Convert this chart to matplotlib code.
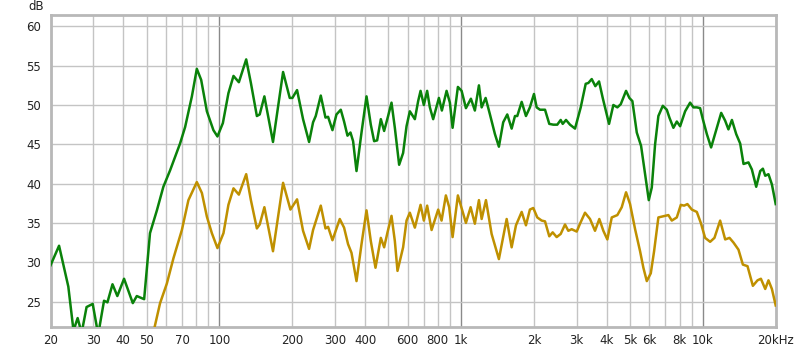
import matplotlib
matplotlib.use("Agg")
import matplotlib.pyplot as plt
from matplotlib.ticker import FixedLocator, NullFormatter

# ---- data ----
green_f = [20, 21.7, 23.7, 24.9, 25.9, 26.9, 28.2, 29.9, 31.5, 33.3, 34.4, 36.1, 37.8, 40.3,
           43.8, 45.5, 48.8, 51.6, 55.1, 58.6, 62.5, 68.7, 72.1, 76.9, 80.6, 84.0, 88.7,
           94.4, 98.1, 103.3, 108.9, 114.3, 120.3, 129, 134.9, 142.8, 146.7, 153.4, 166.5,
           183.3, 195.3, 200.3, 209.4, 221.7, 234.8, 243.9, 250.2, 262.5, 274.5, 281.4,
           293.4, 304.8, 317.6, 327.7, 338.5, 348.3, 357.1, 368.9, 386.9, 405.8, 422.7,
           436.3, 449, 465.1, 480, 498.5, 514.9, 531.5, 553.7, 575.1, 594.1, 613.1, 643.1,
           663.7, 679.1, 700.6, 723, 741.9, 765.7, 808.7, 831.9, 870, 897.8, 921.3, 969,
           1004, 1046, 1097, 1139, 1184, 1215, 1262, 1315, 1379, 1432, 1492, 1551, 1617,
           1669, 1706, 1779, 1853, 1924, 2000, 2052, 2118, 2222, 2314, 2404, 2497, 2580,
           2630, 2714, 2819, 2957, 3122, 3274, 3357, 3467, 3588, 3717, 3850, 4089, 4260,
           4426, 4571, 4808, 4962, 5106, 5325, 5548, 5764, 5970, 6143, 6340, 6542, 6823,
           7088, 7266, 7548, 7797, 8047, 8440, 8851, 9135, 9434, 9736, 9990, 10380, 10810,
           11340, 11900, 12360, 12750, 13180, 13730, 14260, 14720, 15430, 15940, 16610,
           17260, 17700, 18100, 18670, 19290, 20000]
green_db = [29.6, 32.1, 26.9, 21.3, 22.9, 21.0, 24.3, 24.7, 20.8, 25.1, 24.9, 27.2, 25.7, 27.9,
            24.8, 25.7, 25.3, 33.7, 36.6, 39.6, 41.7, 45.1, 47.2, 51.1, 54.6, 53.2, 49.2,
            46.8, 46.0, 47.7, 51.5, 53.7, 52.9, 55.8, 52.8, 48.6, 48.8, 51.1, 45.3,
            54.2, 50.9, 50.9, 51.9, 48.2, 45.3, 47.8, 48.6, 51.2, 48.4, 48.5,
            46.8, 48.8, 49.4, 47.9, 46.1, 46.5, 45.4, 41.6, 46.5, 51.1, 47.5,
            45.4, 45.5, 48.2, 46.7, 48.6, 50.3, 47.1, 42.4, 43.9, 47.3, 49.2, 48.2,
            50.5, 51.8, 50.0, 51.8, 49.7, 48.2, 50.9, 49.3, 51.8, 50.3, 47.1, 52.3,
            51.8, 49.6, 50.8, 49.3, 52.5, 49.7, 50.9, 48.8, 46.3, 44.7, 47.8, 48.8, 47.0,
            48.6, 48.6, 50.4, 48.6, 49.7, 51.4, 49.7, 49.4, 49.4, 47.6, 47.5, 47.5, 48.1,
            47.6, 48.1, 47.5, 47.0, 49.7, 52.7, 52.8, 53.3, 52.4, 53.0, 50.9, 47.6, 50.0,
            49.7, 50.1, 51.8, 50.9, 50.5, 46.5, 44.8, 41.2, 37.9, 39.5, 45.0, 48.6, 49.9,
            49.4, 48.4, 47.1, 47.9, 47.3, 49.2, 50.3, 49.7, 49.7, 49.6, 48.2, 46.3, 44.6,
            46.8, 49.0, 48.0, 46.9, 48.1, 46.3, 45.1, 42.5, 42.7, 41.8, 39.6,
            41.6, 41.9, 41.0, 41.2, 39.9, 37.4]

yellow_f = [53.5, 56.8, 60.6, 64.5, 69.9, 74.4, 80.6, 84.6, 88.7, 93.0, 98.1, 103.9, 108.9,
            114.3, 120.3, 129, 134.9, 142.8, 146.7, 153.4, 166.5, 183.3, 196.6, 209.4, 221.7,
            234.8, 243.9, 262.5, 274.5, 281.4, 293.4, 314.5, 327.7, 340.4, 351.7, 368.9,
            386.9, 405.8, 422.7, 442, 465.1, 480, 495.6, 514.9, 531.5, 545.1, 575.1, 594.1,
            613.1, 643.1, 679.1, 700.6, 723, 754.3, 803.2, 829.4, 864.2, 891.9, 921.3, 969,
            1046, 1094, 1139, 1184, 1215, 1266, 1336, 1432, 1542, 1617, 1685, 1779, 1853,
            1924, 1987, 2064, 2152, 2222, 2314, 2390, 2483, 2580, 2688, 2774, 2865, 3005,
            3101, 3252, 3411, 3577, 3727, 3873, 4023, 4196, 4426, 4615, 4808, 4995, 5241,
            5495, 5671, 5858, 6086, 6280, 6542, 6757, 6974, 7196, 7433, 7797, 8100, 8360,
            8627, 8995, 9434, 9802, 10210, 10710, 11160, 11780, 12360, 12880, 13380, 14030,
            14630, 15290, 16090, 16820, 17370, 18100, 18670, 19290, 20000]
yellow_db = [21.3, 24.8, 27.3, 30.5, 34.1, 37.9, 40.2, 38.8, 35.8, 33.7, 31.8, 33.7, 37.3,
             39.4, 38.6, 41.2, 37.9, 34.3, 34.8, 37.0, 31.4, 40.1, 36.7, 38.0, 34.0,
             31.7, 34.1, 37.2, 34.3, 34.5, 32.8, 35.5, 34.4, 32.3, 31.2, 27.6,
             32.3, 36.6, 32.7, 29.3, 33.1, 31.9, 33.8, 35.9, 32.7, 28.9, 31.9, 35.3,
             36.3, 34.4, 37.3, 35.3, 37.2, 34.1, 36.7, 35.3, 38.5, 37.0, 33.2, 38.5,
             35.0, 37.0, 34.9, 37.9, 35.5, 37.9, 33.6, 30.4, 35.5, 31.9, 34.7, 36.4, 34.7,
             36.7, 36.9, 35.7, 35.3, 35.2, 33.3, 33.8, 33.2, 33.6, 34.8, 34.0, 34.2, 33.9,
             34.9, 36.3, 35.5, 34.0, 35.5, 34.0, 32.9, 35.7, 36.0, 37.0, 38.9, 37.4, 34.2,
             31.4, 29.3, 27.6, 28.6, 31.4, 35.7, 35.8, 35.9, 36.0, 35.3, 35.7, 37.3, 37.2,
             37.4, 36.7, 36.4, 35.0, 33.1, 32.6, 33.1, 35.3, 32.9, 33.1, 32.5, 31.6,
             29.7, 29.5, 27.0, 27.7, 27.9, 26.6, 27.7, 26.6, 24.5]

xtick_vals = [20, 30, 40, 50, 70, 100, 200, 300, 400, 600, 800, 1000, 2000, 3000, 4000,
              5000, 6000, 8000, 10000, 20000]
xtick_labels = ["20", "30", "40", "50", "70", "100", "200", "300", "400", "600", "800", "1k",
                "2k", "3k", "4k", "5k", "6k", "8k", "10k", "20kHz"]
ytick_vals = [25, 30, 35, 40, 45, 50, 55, 60]

# ---- figure ----
fig = plt.figure(figsize=(8, 3.48), dpi=100)
ax = fig.add_axes([50.5 / 800, 1 - 326.7 / 348, (775.7 - 50.5) / 800, (326.7 - 15) / 348])
ax.set_xscale("log")
ax.set_xlim(20, 20000)
ax.set_ylim(21.8, 61.45)

# grid
minor_grid = [v * m for m in (10, 100, 1000) for v in range(2, 10)] + [20000]
minor_grid = [g for g in minor_grid if 20 <= g <= 20000]
for g in minor_grid:
    ax.axvline(g, color="#c4c4c4", lw=1.0, zorder=1)
for g in (100, 1000, 10000):
    ax.axvline(g, color="#8a8a8a", lw=1.0, zorder=1)
for y in ytick_vals:
    ax.axhline(y, color="#c4c4c4", lw=1.0, zorder=1)

ax.plot(yellow_f, yellow_db, color="#bf9000", lw=1.8, zorder=3, solid_joinstyle="round")
ax.plot(green_f, green_db, color="#0a820a", lw=1.8, zorder=4, solid_joinstyle="round")

ax.xaxis.set_major_locator(FixedLocator(xtick_vals))
ax.set_xticklabels(xtick_labels)
ax.xaxis.set_minor_formatter(NullFormatter())
ax.xaxis.set_minor_locator(FixedLocator([]))
ax.set_yticks(ytick_vals)
ax.tick_params(axis="both", length=0, labelsize=8.5, colors="#222222")
ax.tick_params(axis="x", pad=5)
ax.tick_params(axis="y", pad=7)

for s in ax.spines.values():
    s.set_color("#b8b8b8")
    s.set_linewidth(2.0)

fig.text(44 / 800, 1 - 6 / 348, "dB", ha="right", va="center", fontsize=8.5, color="#222222")

fig.savefig("out.png", dpi=100)
